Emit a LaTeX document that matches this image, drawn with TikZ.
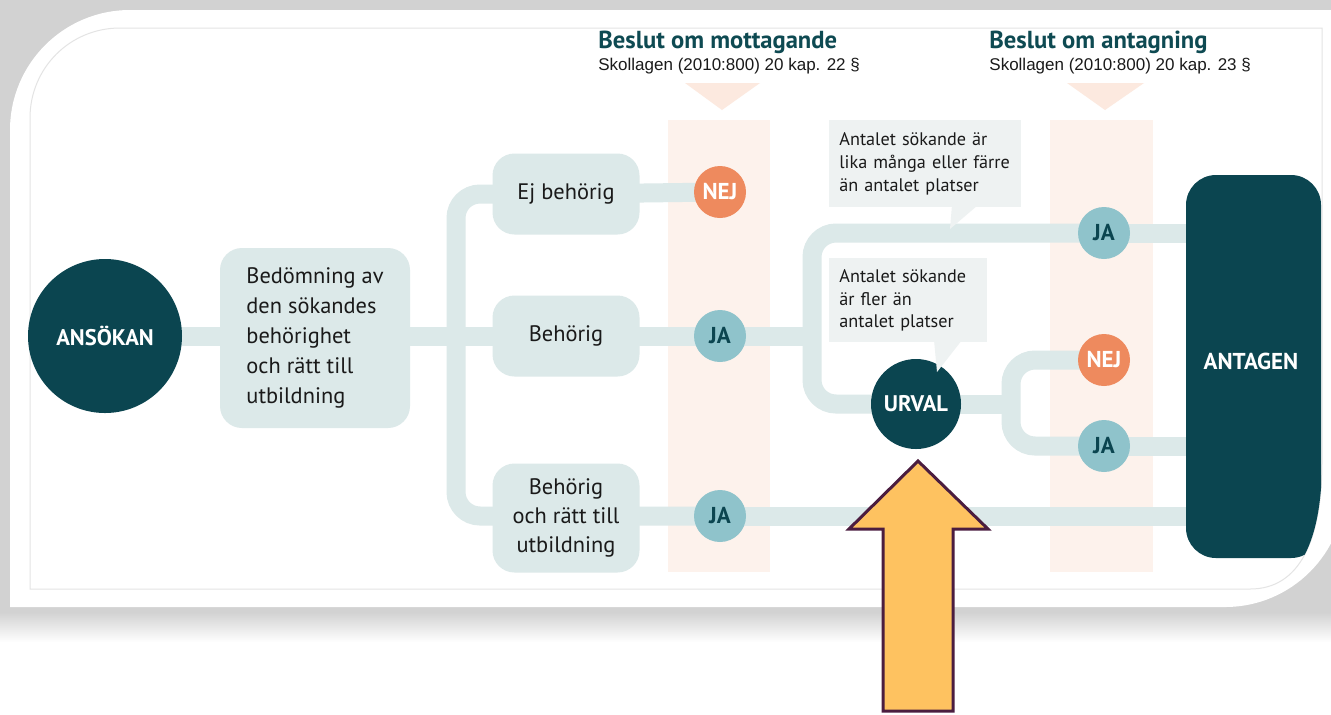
\documentclass[tikz,border=0pt]{standalone}
\usepackage{fontspec}
\setmainfont{PT Sans}
\newfontfamily\subfont{Liberation Sans}
\usetikzlibrary{calc}
\definecolor{dark}{HTML}{0B4550}
\definecolor{lineC}{HTML}{DCE9E9}
\definecolor{boxC}{HTML}{DCE9E9}
\definecolor{jaC}{HTML}{8FC3CB}
\definecolor{nejC}{HTML}{EE8A5E}
\definecolor{peach}{HTML}{FDF2EC}
\definecolor{peachT}{HTML}{FCE9DF}
\definecolor{bubbleC}{HTML}{EEF2F2}
\definecolor{titleC}{HTML}{0E4A52}
\definecolor{shadowC}{HTML}{D2D2D2}
\definecolor{frameC}{HTML}{E4E4E4}
\definecolor{arrowY}{HTML}{FEC260}
\definecolor{arrowB}{HTML}{4B1D3F}
\definecolor{txt}{HTML}{1A1A1A}
\pgfdeclarelayer{back}
\pgfdeclarelayer{lines}
\pgfsetlayers{back,lines,main}
\tikzset{
  conn/.style={draw=lineC, line width=9.5pt},
  box/.style={fill=boxC, rounded corners=11pt, minimum width=73.5pt, minimum height=40.5pt, inner sep=0pt, align=center, text=txt, font=\fontsize{11.2}{14.5}\selectfont},
  bigbox/.style={fill=boxC, rounded corners=11pt, minimum width=95pt, minimum height=90pt, inner xsep=13pt, inner ysep=0pt, align=left, text=txt, font=\fontsize{11.2}{15}\selectfont},
  dot/.style={circle, minimum size=26pt, inner sep=0pt, font=\bfseries\fontsize{11.5}{12}\selectfont},
  ja/.style={dot, fill=jaC, text=dark},
  nej/.style={dot, fill=nejC, text=white},
  bigdot/.style={circle, fill=dark, text=white, inner sep=0pt, font=\bfseries\fontsize{11.3}{12}\selectfont},
  bubble/.style={fill=bubbleC, inner xsep=5pt, inner ysep=0pt, align=left, text=txt, font=\fontsize{9.1}{11.3}\selectfont, anchor=north west},
  ttl/.style={anchor=base west, inner sep=0pt, text=titleC, font=\bfseries\fontsize{12.3}{13}\selectfont},
  sub/.style={anchor=base west, inner sep=0pt, text=txt, font=\subfont\fontsize{8.5}{10}\selectfont},
}
\begin{document}
\begin{tikzpicture}[x=0.5pt,y=-0.5pt]
\useasboundingbox (0,0) rectangle (1331,714);
\begin{pgfonlayer}{back}
  \fill[white] (0,0) rectangle (1331,714);
  \fill[shadowC] (0,0) rectangle (1331,612);
  \shade[top color=shadowC, bottom color=white] (0,612) rectangle (1331,642);
  \fill[white] (10,607) -- (10,130) .. controls (10,63.7) and (63.7,10) .. (130,10) -- (1345,10) -- (1345,487) .. controls (1345,553.3) and (1291.3,607) .. (1225,607) -- cycle;
  \draw[frameC, line width=0.5pt] (30,589) -- (30,118) .. controls (30,68) and (70,28) .. (120,28) -- (1322,28) -- (1322,460) .. controls (1322,540) and (1300,589) .. (1250,589) -- cycle;
  % decision columns
  \fill[peach] (668,120) rectangle (770,572);
  \fill[peachT] (685,83) -- (760,83) -- (722,110) -- cycle;
  \fill[peach] (1050,120) rectangle (1153,572);
  \fill[peachT] (1067,83) -- (1144,83) -- (1105,110) -- cycle;
\end{pgfonlayer}

% titles
\node[ttl] (t1) at (598,48) {Beslut om mottagande};
\node[sub] (s1) at (598,70) {Skollagen (2010:800) 20 kap. 22 §};
\node[ttl] (t2) at (989,48) {Beslut om antagning};
\node[sub] (s2) at (989,70) {Skollagen (2010:800) 20 kap. 23 §};

% nodes
\node[bigdot, minimum size=77pt] (ansokan) at (105,336) {ANSÖKAN};
\node[bigbox] (bed) at (315,338) {Bedömning av\\den sökandes\\behörighet\\och rätt till\\utbildning};
\node[box] (ejb) at (566,194) {Ej behörig};
\node[box] (beh) at (566,336) {Behörig};
\node[box, minimum height=54.5pt] (both) at (566,518) {Behörig\\och rätt till\\utbildning};
\node[nej] (nej1) at (720,192) {NEJ};
\node[ja] (ja1) at (720,336) {JA};
\node[ja] (ja2) at (720,516) {JA};
\node[ja] (ja3) at (1104,233) {JA};
\node[nej] (nej2) at (1104,360) {NEJ};
\node[ja] (ja4) at (1104,446) {JA};
\node[bigdot, minimum size=45pt] (urval) at (916,404) {URVAL};
\begin{scope}
  \clip (30,589) -- (30,118) .. controls (30,68) and (70,28) .. (120,28) -- (1322,28) -- (1322,460) .. controls (1322,540) and (1300,589) .. (1250,589) -- cycle;
  \node[fill=dark, rounded corners=15pt, minimum width=67.5pt, minimum height=191.5pt, inner sep=0pt] (antagen) at (1253.5,366.5) {};
\end{scope}
\node[text=white, inner sep=0pt, font=\bfseries\fontsize{11.5}{12}\selectfont] (antagenlabel) at (1251,361) {ANTAGEN};

% speech bubbles
\node[bubble, text width=86pt, minimum height=43.5pt] (b1) at (829,120) {Antalet sökande är\\lika många eller färre\\än antalet platser};
\fill[bubbleC] (952,205) -- (978,205) -- (950,229) -- cycle;
\node[bubble, text width=69pt, minimum height=42pt] (b2) at (829,258) {Antalet sökande\\är fler än\\antalet platser};
\fill[bubbleC] (934,340) -- (962,340) -- (937,372) -- cycle;

% helper coordinates
\coordinate (trunk) at (456,336);
\coordinate (bx) at (812,336);
\coordinate (ux) at (1011,404);

% connectors
\begin{pgfonlayer}{lines}
  \draw[conn] (ansokan.center) -- (beh.center);
  \draw[conn, rounded corners=12pt] (ejb.center) -- (ejb.center -| trunk) -- (ja2.center -| trunk) -- (ja2.center);
  \draw[conn] (ejb.center) -- (nej1.center);
  \draw[conn] (beh.center) -- (ja1.center) -- (bx);
  \draw[conn, rounded corners=12pt] (ja3.center) -- (ja3.center -| bx) -- (urval.center -| bx) -- (urval.center);
  \draw[conn] (ja3.center) -- (ja3.center -| antagen.center);
  \draw[conn, rounded corners=12pt] (nej2.center) -- (nej2.center -| ux) -- (ja4.center -| ux) -- (ja4.center);
  \draw[conn] (urval.center) -- (ux);
  \draw[conn] (ja4.center) -- (ja4.center -| antagen.center);
  \draw[conn] (ja2.center) -- (ja2.center -| antagen.center);
\end{pgfonlayer}

% highlight arrow
\draw[fill=arrowY, draw=arrowB, line width=1.5pt, line join=miter] (918,461) -- (988,529) -- (953,529) -- (953,711) -- (883,711) -- (883,529) -- (849,529) -- cycle;
\end{tikzpicture}
\end{document}
